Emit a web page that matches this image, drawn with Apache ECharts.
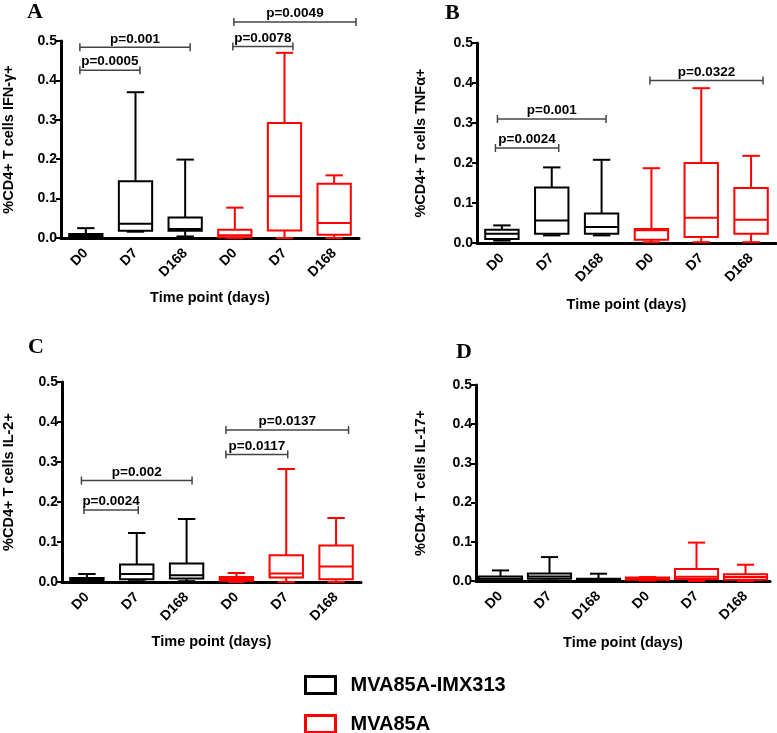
<!DOCTYPE html>
<html>
<head>
<meta charset="utf-8">
<script src="https://cdn.jsdelivr.net/npm/echarts@6/dist/echarts.min.js"></script>
<style>
html,body{margin:0;padding:0;background:#fff;}
#chart{width:777px;height:733px;}
</style>
</head>
<body>
<div id="chart"></div>
<script>
// ---------- data ----------
const categories = ['D0', 'D7', 'D168', 'D0', 'D7', 'D168'];
const groupNames = ['MVA85A-IMX313', 'MVA85A'];
const xTitle = 'Time point (days)';
const yTitles = ['%CD4+ T cells IFN-γ+', '%CD4+ T cells TNFα+', '%CD4+ T cells IL-2+', '%CD4+ T cells IL-17+'];
const panelLetters = ['A', 'B', 'C', 'D'];

// box stats per category: [min, q1, median, q3, max]
const ifnImx = [[0, 0.002, 0.005, 0.010, 0.025], [0.016, 0.0185, 0.036, 0.144, 0.370], [0.004, 0.0185, 0.023, 0.052, 0.199]];
const ifnMva = [[0, 0.002, 0.007, 0.021, 0.077], [0, 0.019, 0.106, 0.292, 0.470], [0, 0.008, 0.038, 0.138, 0.159]];
const tnfImx = [[0.006, 0.010, 0.023, 0.033, 0.044], [0.019, 0.023, 0.056, 0.139, 0.189], [0.019, 0.023, 0.040, 0.074, 0.208]];
const tnfMva = [[0.002, 0.008, 0.032, 0.035, 0.187], [0.002, 0.015, 0.063, 0.200, 0.387], [0.002, 0.023, 0.058, 0.1375, 0.218]];
const il2Imx = [[0, 0.002, 0.005, 0.010, 0.020], [0.002, 0.007, 0.020, 0.0435, 0.1225], [0.002, 0.0085, 0.017, 0.046, 0.1575]];
const il2Mva = [[0, 0.003, 0.0075, 0.0125, 0.0225], [0, 0.011, 0.021, 0.067, 0.2825], [0, 0.007, 0.039, 0.091, 0.160]];
const il17Imx = [[0, 0.002, 0.006, 0.0117, 0.027], [0.001, 0.006, 0.0117, 0.019, 0.061], [0, 0.001, 0.003, 0.006, 0.0186]];
const il17Mva = [[0.001, 0.003, 0.006, 0.009, 0.010], [0, 0.005, 0.011, 0.0305, 0.098], [0, 0.003, 0.010, 0.017, 0.0415]];

// significance brackets: [fromPos, toPos, yValue] (positions in category units), labels
const ifnBrackets = [[-0.12, 1.09, 0.426], [-0.12, 2.10, 0.484], [2.96, 4.17, 0.486], [2.98, 5.44, 0.548]];
const ifnPLabels = ['p=0.0005', 'p=0.001', 'p=0.0078', 'p=0.0049'];
const tnfBrackets = [[-0.13, 1.14, 0.2375], [-0.09, 2.09, 0.310], [2.97, 5.24, 0.406]];
const tnfPLabels = ['p=0.0024', 'p=0.001', 'p=0.0322'];
const il2Brackets = [[-0.06, 1.03, 0.180], [-0.11, 2.11, 0.2535], [2.79, 4.03, 0.319], [2.79, 5.25, 0.380]];
const il2PLabels = ['p=0.0024', 'p=0.002', 'p=0.0117', 'p=0.0137'];
const il17Brackets = [];
const il17PLabels = [];

const yMin = 0, yMax = 0.5, yStep = 0.1;

// ---------- layout / style ----------
const FONT = 'Liberation Sans, Arial, sans-serif';
const groupColors = ['#000000', '#ff0000'];
const panels = [
  {imx: ifnImx, mva: ifnMva, br: ifnBrackets, pl: ifnPLabels, grid: {left: 61, top: 41, width: 298, height: 197}, yGap: 45, xGap: 52, boxFrac: 0.67, letter: [27, 12]},
  {imx: tnfImx, mva: tnfMva, br: tnfBrackets, pl: tnfPLabels, grid: {left: 477, top: 43, width: 299, height: 200}, yGap: 49, xGap: 54, boxFrac: 0.67, letter: [445, 13]},
  {imx: il2Imx, mva: il2Mva, br: il2Brackets, pl: il2PLabels, grid: {left: 61, top: 382, width: 300, height: 200}, yGap: 46, xGap: 52, boxFrac: 0.67, letter: [28, 347]},
  {imx: il17Imx, mva: il17Mva, br: il17Brackets, pl: il17PLabels, grid: {left: 476, top: 385, width: 294, height: 196}, yGap: 48, xGap: 54, boxFrac: 0.88, letter: [456, 352]}
];

function boxRenderer(color, boxFrac) {
  return function (params, api) {
    const x = api.value(0);
    const pMin = api.coord([x, api.value(1)]);
    const pQ1 = api.coord([x, api.value(2)]);
    const pMed = api.coord([x, api.value(3)]);
    const pQ3 = api.coord([x, api.value(4)]);
    const pMax = api.coord([x, api.value(5)]);
    const band = api.size([1, 0])[0];
    const bw = band * boxFrac;
    const cw = band * 0.35;
    const cx = pMed[0];
    const ls = {stroke: color, lineWidth: 2, fill: null};
    return {
      type: 'group',
      children: [
        {type: 'line', shape: {x1: cx, y1: pQ3[1], x2: cx, y2: pMax[1]}, style: ls},
        {type: 'line', shape: {x1: cx, y1: pQ1[1], x2: cx, y2: pMin[1]}, style: ls},
        {type: 'line', shape: {x1: cx - cw / 2, y1: pMax[1], x2: cx + cw / 2, y2: pMax[1]}, style: ls},
        {type: 'line', shape: {x1: cx - cw / 2, y1: pMin[1], x2: cx + cw / 2, y2: pMin[1]}, style: ls},
        {type: 'rect', shape: {x: cx - bw / 2, y: pQ3[1], width: bw, height: pQ1[1] - pQ3[1]}, style: {stroke: color, lineWidth: 2, fill: '#ffffff'}},
        {type: 'line', shape: {x1: cx - bw / 2, y1: pMed[1], x2: cx + bw / 2, y2: pMed[1]}, style: ls}
      ]
    };
  };
}

function bracketRenderer(labels) {
  return function (params, api) {
    const y = api.value(1);
    const from = api.value(2), to = api.value(3);
    const base = api.coord([0, y]);
    const band = api.size([1, 0])[0];
    const x1 = base[0] + from * band;
    const x2 = base[0] + to * band;
    const yy = base[1];
    const ls = {stroke: '#444444', lineWidth: 1.5};
    return {
      type: 'group',
      children: [
        {type: 'line', shape: {x1: x1, y1: yy, x2: x2, y2: yy}, style: ls},
        {type: 'line', shape: {x1: x1, y1: yy - 4, x2: x1, y2: yy + 4}, style: ls},
        {type: 'line', shape: {x1: x2, y1: yy - 4, x2: x2, y2: yy + 4}, style: ls},
        {type: 'text', x: (x1 + x2) / 2, y: yy - 1.5, style: {text: labels[params.dataIndex], fill: '#000', font: 'bold 13.5px ' + FONT, align: 'center', verticalAlign: 'bottom'}}
      ]
    };
  };
}

const grids = [], xAxes = [], yAxes = [], series = [], graphics = [];
panels.forEach(function (p, i) {
  grids.push(Object.assign({containLabel: false}, p.grid));
  xAxes.push({
    gridIndex: i, type: 'category', data: categories,
    name: xTitle, nameLocation: 'middle', nameGap: p.xGap,
    nameTextStyle: {color: '#000', fontWeight: 'bold', fontSize: 14.5, fontFamily: FONT},
    axisLine: {lineStyle: {color: '#000', width: 3}},
    axisTick: {alignWithLabel: true, length: 6, lineStyle: {color: '#000', width: 2}},
    axisLabel: {interval: 0, rotate: 45, margin: 13, color: '#000', fontWeight: 'bold', fontSize: 14, fontFamily: FONT},
    splitLine: {show: false}
  });
  yAxes.push({
    gridIndex: i, type: 'value', min: yMin, max: yMax, interval: yStep,
    name: yTitles[i], nameLocation: 'middle', nameRotate: 90, nameGap: p.yGap,
    nameTextStyle: {color: '#000', fontWeight: 'bold', fontSize: 14.5, fontFamily: FONT},
    axisLine: {show: true, lineStyle: {color: '#000', width: 3}},
    axisTick: {show: true, length: 5, lineStyle: {color: '#000', width: 2}},
    axisLabel: {formatter: function (v) { return v.toFixed(1); }, margin: 4, color: '#000', fontWeight: 'bold', fontSize: 14, fontFamily: FONT},
    splitLine: {show: false}
  });
  [p.imx, p.mva].forEach(function (stats, g) {
    series.push({
      type: 'custom', name: groupNames[g], xAxisIndex: i, yAxisIndex: i,
      itemStyle: {color: groupColors[g]},
      renderItem: boxRenderer(groupColors[g], p.boxFrac),
      encode: {x: 0, y: [1, 2, 3, 4, 5]},
      data: stats.map(function (s, k) { return [g * 3 + k].concat(s); }),
      z: 3
    });
  });
  if (p.br.length) {
    series.push({
      type: 'custom', name: 'brackets' + i, xAxisIndex: i, yAxisIndex: i,
      renderItem: bracketRenderer(p.pl),
      encode: {x: 0, y: 1},
      data: p.br.map(function (b) { return [0, b[2], b[0], b[1]]; }),
      clip: false, silent: true, z: 4
    });
  }
  graphics.push({type: 'text', left: p.letter[0], top: p.letter[1] - 11,
    style: {text: panelLetters[i], font: 'bold 22px Liberation Serif, Times New Roman, serif', fill: '#000'}});
});

function legendFor(g, top) {
  return {
    orient: 'vertical', left: 304, top: top, padding: 0, itemWidth: 30, itemHeight: 17,
    icon: 'rect', selectedMode: false,
    textStyle: {color: '#000', fontWeight: 'bold', fontSize: 20, fontFamily: FONT, padding: [0, 0, 0, 10]},
    data: [{name: groupNames[g], itemStyle: {color: '#ffffff', borderColor: groupColors[g], borderWidth: 3}}]
  };
}

const chart = echarts.init(document.getElementById('chart'), null, {renderer: 'canvas'});
chart.setOption({
  backgroundColor: '#ffffff',
  animation: false,
  grid: grids,
  xAxis: xAxes,
  yAxis: yAxes,
  series: series,
  graphic: graphics,
  legend: [legendFor(0, 675), legendFor(1, 714)]
});
</script>
</body>
</html>
